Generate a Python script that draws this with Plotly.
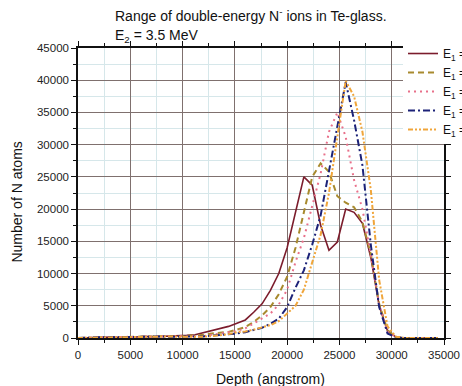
import plotly.graph_objects as go

# Depth bins (angstrom)
depth = [0, 800, 1600, 2400, 3200, 4000, 4800, 5600, 6400, 7200,
         8000, 8800, 9600, 10400, 11200, 12000, 12800, 13600, 14400, 15200,
         16000, 16800, 17600, 18400, 19200, 20000, 20800, 21600, 22400, 23200,
         24000, 24800, 25600, 26400, 27200, 28000, 28800, 29600, 30400, 31200,
         32000, 32800, 33600, 34400]

# Number of implanted N atoms per bin, one list per E1 value
n_e1_a = [0, 50, 100, 80, 150, 120, 200, 150, 250, 200,
          250, 300, 250, 400, 500, 800, 1100, 1500, 1800, 2300,
          2800, 4000, 5300, 7400, 10000, 14000, 19500, 25000, 23700, 17500,
          13600, 14900, 20000, 19500, 17800, 12500, 5000, 1100, 150, 0,
          0, 0, 0, 0]
n_e1_b = [0, 30, 80, 100, 120, 150, 150, 200, 200, 250,
          250, 300, 250, 300, 400, 500, 700, 850, 950, 1300,
          1700, 2500, 3500, 4800, 6800, 9500, 14000, 19500, 25000, 27100,
          25800, 22000, 21000, 20300, 18000, 13000, 5300, 1200, 200, 0,
          0, 0, 0, 0]
n_e1_c = [0, 40, 60, 120, 100, 150, 180, 150, 200, 220,
          200, 250, 300, 250, 300, 300, 500, 700, 850, 1100,
          1500, 2300, 3100, 3800, 5200, 7500, 11800, 15500, 20500, 25500,
          32000, 35000, 31200, 24500, 20000, 13000, 5200, 1000, 150, 0,
          0, 0, 0, 0]
n_e1_d = [0, 60, 80, 100, 150, 100, 150, 200, 180, 220,
          250, 200, 250, 250, 250, 250, 350, 450, 550, 700,
          900, 1200, 1600, 2200, 3000, 4800, 7800, 10500, 14500, 19000,
          26000, 33000, 39700, 33800, 26800, 14500, 4800, 700, 100, 0,
          0, 0, 0, 0]
n_e1_e = [0, 40, 50, 120, 100, 130, 120, 180, 150, 200,
          220, 200, 250, 200, 200, 200, 300, 400, 600, 900,
          1000, 1300, 1600, 2000, 2600, 3800, 5000, 7500, 11800, 16000,
          22500, 31000, 39900, 37500, 32000, 23000, 9000, 1800, 200, 0,
          0, 0, 0, 0]

series_names = ["E<sub>1</sub> =", "E<sub>1</sub> =", "E<sub>1</sub> =",
                "E<sub>1</sub> =", "E<sub>1</sub> ="]

x_ticks = [0, 5000, 10000, 15000, 20000, 25000, 30000, 35000]
y_ticks = [0, 5000, 10000, 15000, 20000, 25000, 30000, 35000, 40000, 45000]

styles = [
    dict(color="#7b1c2c", width=1.6, dash="solid"),
    dict(color="#a88a2e", width=2.0, dash="6px,4px"),
    dict(color="#e8708a", width=2.0, dash="2px,4px"),
    dict(color="#1c2278", width=2.0, dash="7px,3px,2px,3px"),
    dict(color="#f0a53a", width=2.0, dash="5px,2px,2px,2px,2px,2px"),
]

fig = go.Figure()
for name, ys, st in zip(series_names, [n_e1_a, n_e1_b, n_e1_c, n_e1_d, n_e1_e], styles):
    fig.add_trace(go.Scatter(x=depth, y=ys, mode="lines", name=name, line=st))

font_family = "Liberation Sans, Arial, sans-serif"
axis_common = dict(
    showline=True, linecolor="#111111", linewidth=1.5, mirror="ticks",
    ticks="outside", ticklen=5, tickwidth=1.2, tickcolor="#111111",
    showgrid=True, gridcolor="#7f706e", gridwidth=1,
    zeroline=False,
    tickfont=dict(family=font_family, size=11.5, color="#222222"),
)

fig.update_xaxes(
    range=[0, 35000], tickvals=x_ticks, ticktext=[str(v) for v in x_ticks],
    minor=dict(tick0=2500, dtick=5000, ticks="outside", ticklen=3, tickcolor="#111111",
               showgrid=True, gridcolor="#d6e7ea", gridwidth=1),
    **axis_common,
)
fig.update_yaxes(
    range=[0, 45000], tickvals=y_ticks, ticktext=[str(v) for v in y_ticks],
    minor=dict(tick0=2500, dtick=5000, ticks="outside", ticklen=3, tickcolor="#111111",
               showgrid=True, gridcolor="#d6e7ea", gridwidth=1),
    **axis_common,
)

text_font = dict(family=font_family, size=14, color="#111111")

fig.update_layout(
    width=462, height=386,
    margin=dict(l=78, r=18, t=48, b=48, autoexpand=False),
    paper_bgcolor="white", plot_bgcolor="white",
    font=dict(family=font_family, color="#111111"),
    legend=dict(
        x=0.888, xanchor="left", y=1.031, yanchor="top",
        bgcolor="white", borderwidth=0,
        font=dict(family=font_family, size=12, color="#111111"),
        tracegroupgap=0,
    ),
    annotations=[
        # two-line chart heading
        dict(text="Range of double-energy N<sup>-</sup> ions in Te-glass.",
             xref="paper", yref="paper", x=0.0956, y=1.114,
             xanchor="left", yanchor="middle", showarrow=False, font=text_font),
        dict(text="E<sub>2</sub> = 3.5 MeV",
             xref="paper", yref="paper", x=0.0956, y=1.043,
             xanchor="left", yanchor="middle", showarrow=False, font=text_font),
        # axis titles
        dict(text="Number of N atoms", textangle=-90, xref="paper", yref="paper",
             x=-0.167, y=0.47, xanchor="center", yanchor="middle", showarrow=False,
             font=text_font),
        dict(text="Depth (angstrom)", xref="paper", yref="paper",
             x=0.527, y=-0.141, xanchor="center", yanchor="middle", showarrow=False,
             font=text_font),
    ],
)

fig.write_html("out.html")
